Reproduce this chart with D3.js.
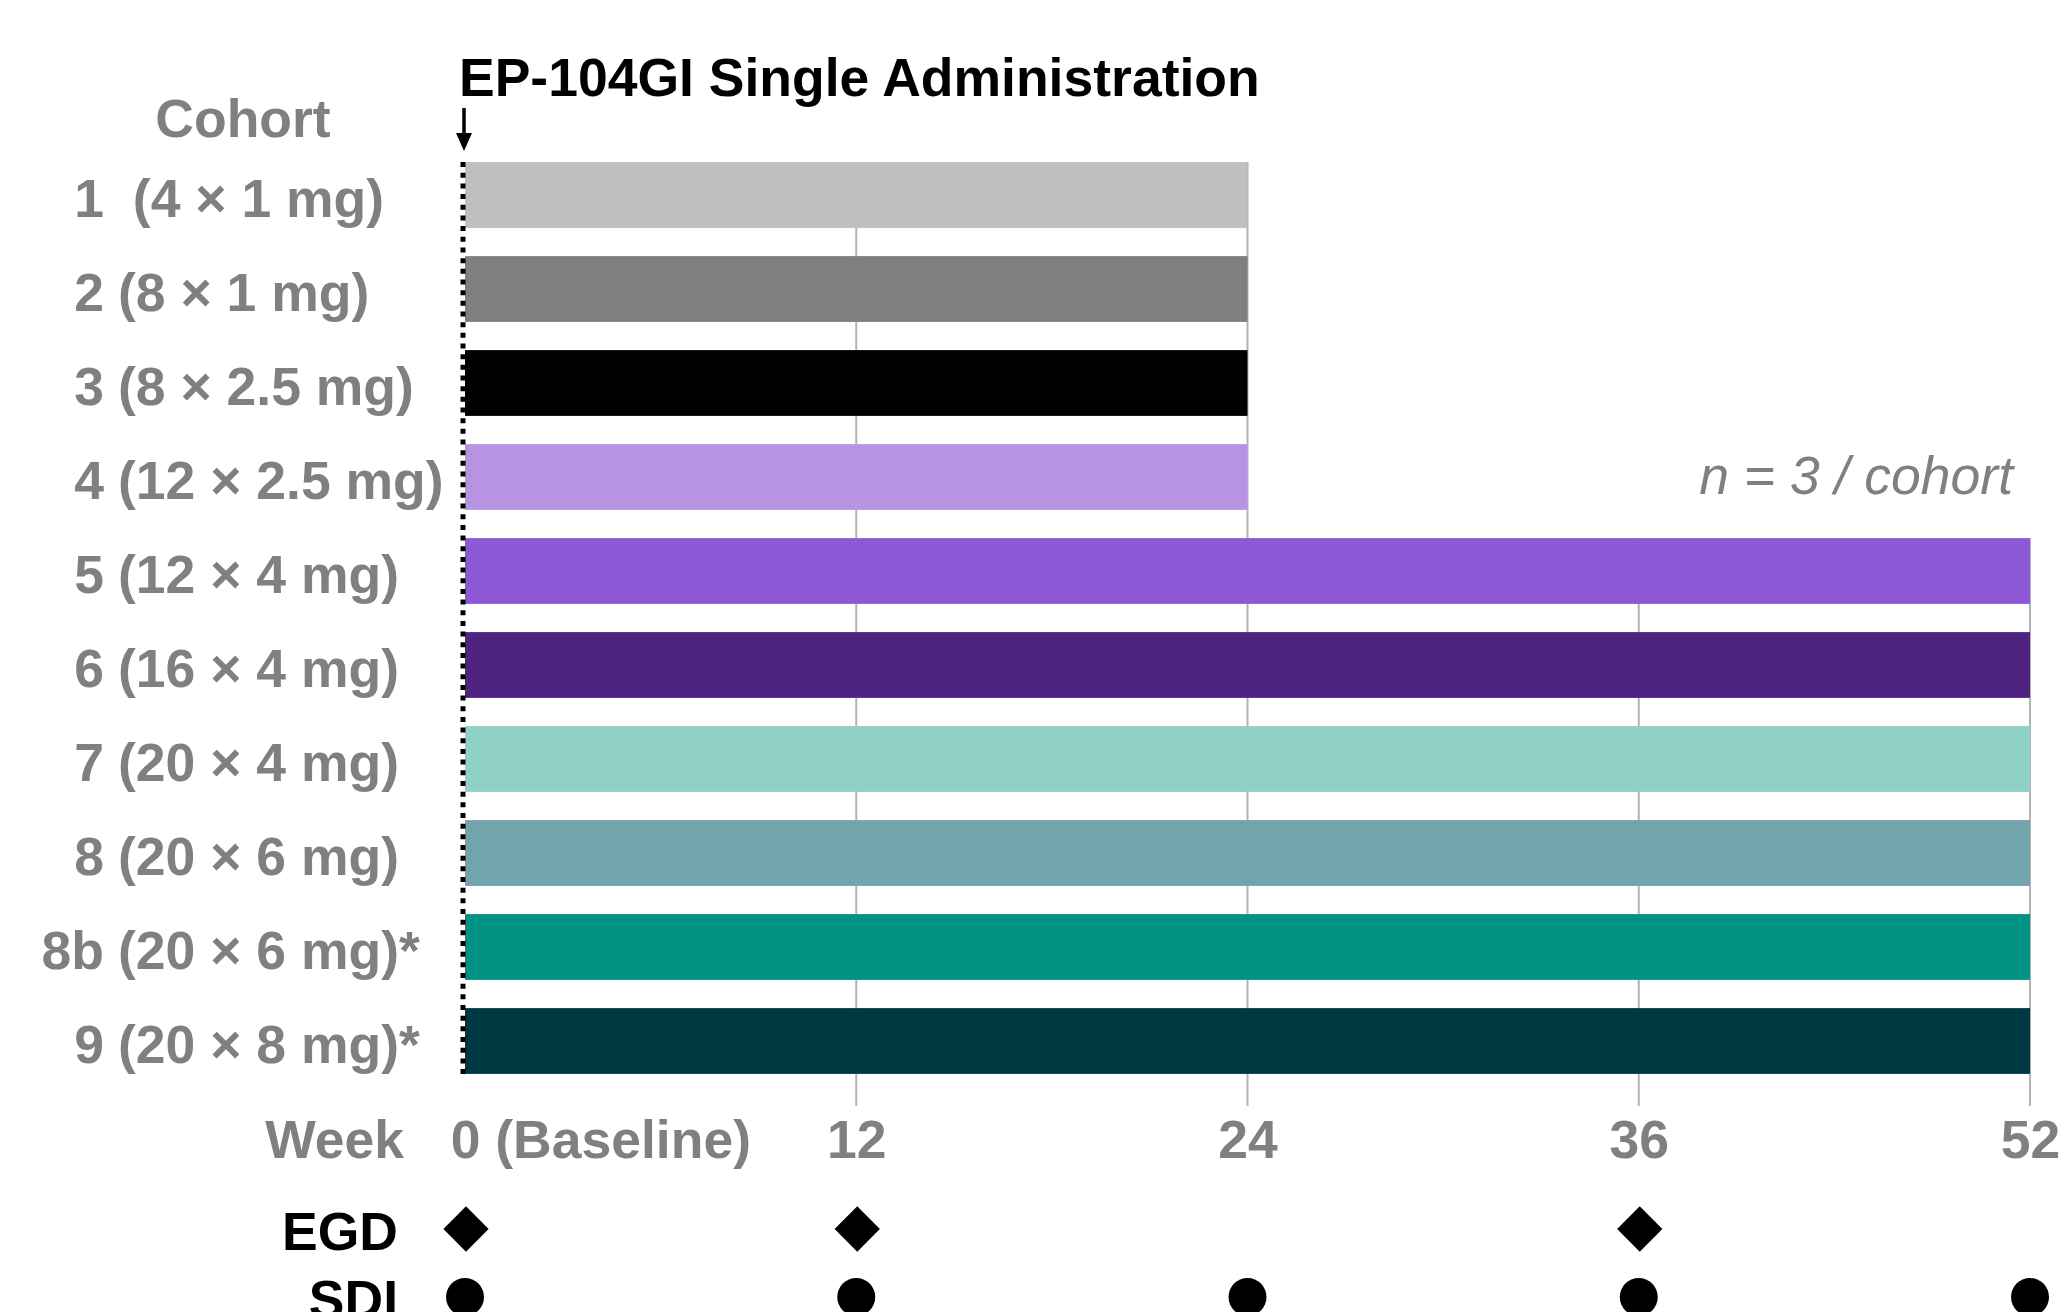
<!DOCTYPE html>
<html>
<head>
<meta charset="utf-8">
<script src="https://cdn.jsdelivr.net/npm/d3@7"></script>
<style>
  html, body { margin: 0; padding: 0; background: #ffffff; }
  svg { display: block; }
  text { font-family: "Liberation Sans", Arial, Helvetica, sans-serif; white-space: pre; }
</style>
</head>
<body>
<svg id="chart" width="2063" height="1312"></svg>
<script>
// ---- data ----
const cohortIds = ["1", "2", "3", "4", "5", "6", "7", "8", "8b", "9"];
const doseLabels = [" (4 × 1 mg)", "(8 × 1 mg)", "(8 × 2.5 mg)", "(12 × 2.5 mg)", "(12 × 4 mg)",
                    "(16 × 4 mg)", "(20 × 4 mg)", "(20 × 6 mg)", "(20 × 6 mg)*", "(20 × 8 mg)*"];
const endWeeks = [24, 24, 24, 24, 52, 52, 52, 52, 52, 52];
const barColors = ["#bfbfbf", "#7f7f7f", "#000000", "#b794e2", "#8e59d6",
                   "#4f2382", "#8fd1c6", "#72a4ab", "#009383", "#003842"];
const tickWeeks = [0, 12, 24, 36, 52];
const tickLabels = ["0 (Baseline)", "12", "24", "36", "52"];
const egdWeeks = [0, 12, 36];
const sdiWeeks = [0, 12, 24, 36, 52];
const titleText = "EP-104GI Single Administration";
const noteText = "n = 3 / cohort";

// ---- setup ----
const W = 2063, H = 1312;
const FS = 53.5;
const GRAY = "#808080";
const svg = d3.select("#chart").attr("xml:space", "preserve");
svg.append("rect").attr("width", W).attr("height", H).attr("fill", "#fff");

const x = d3.scalePoint().domain(tickWeeks).range([465, 2030]);
const y = d3.scaleBand().domain(cohortIds).range([148, 1088]).paddingInner(0.3).paddingOuter(0.15);

const rows = cohortIds.map((id, i) => ({ id, dose: doseLabels[i], end: endWeeks[i], color: barColors[i] }));

// ---- gridlines (start at the first bar that reaches the week) ----
const gridBottom = 1106;
svg.append("g").selectAll("line")
  .data(tickWeeks.filter(t => t > 0))
  .join("line")
  .attr("x1", d => x(d)).attr("x2", d => x(d))
  .attr("y1", d => y(rows.find(r => r.end >= d).id))
  .attr("y2", gridBottom)
  .attr("stroke", "#b3b3b3").attr("stroke-width", 2);

// ---- bars ----
svg.append("g").selectAll("rect")
  .data(rows)
  .join("rect")
  .attr("x", x(0))
  .attr("y", d => y(d.id))
  .attr("width", d => x(d.end) - x(0))
  .attr("height", y.bandwidth())
  .attr("fill", d => d.color);

// ---- dotted baseline ----
svg.append("line")
  .attr("x1", x(0) - 2).attr("x2", x(0) - 2)
  .attr("y1", y(cohortIds[0])).attr("y2", y(cohortIds[cohortIds.length - 1]) + y.bandwidth())
  .attr("stroke", "#000").attr("stroke-width", 5)
  .attr("stroke-dasharray", "5 5.67");

// ---- arrow ----
const ax = x(0) - 1;
svg.append("line").attr("x1", ax).attr("x2", ax).attr("y1", 108).attr("y2", 136)
  .attr("stroke", "#000").attr("stroke-width", 3.5);
svg.append("path").attr("d", `M${ax - 8},133 L${ax + 8},133 L${ax},151 Z`).attr("fill", "#000");

// ---- title ----
svg.append("text").attr("x", 459).attr("y", 96)
  .attr("font-size", FS).attr("font-weight", "bold").attr("fill", "#000")
  .text(titleText);

// ---- cohort header ----
svg.append("text").attr("x", 243).attr("y", 137).attr("text-anchor", "middle")
  .attr("font-size", FS).attr("font-weight", "bold").attr("fill", GRAY)
  .text("Cohort");

// ---- cohort labels ----
const labG = svg.append("g").attr("font-size", FS).attr("font-weight", "bold").attr("fill", GRAY);
labG.selectAll("text.id").data(rows).join("text").attr("class", "id")
  .attr("x", 104).attr("y", d => y(d.id) + y.bandwidth() / 2 + 22)
  .attr("text-anchor", "end").text(d => d.id);
labG.selectAll("text.dose").data(rows).join("text").attr("class", "dose")
  .attr("x", 118).attr("y", d => y(d.id) + y.bandwidth() / 2 + 22)
  .attr("text-anchor", "start").text(d => d.dose);

// ---- n = 3 / cohort ----
svg.append("text").attr("x", 2013).attr("y", 494).attr("text-anchor", "end")
  .attr("font-size", FS).attr("font-style", "italic").attr("fill", GRAY)
  .text(noteText);

// ---- x axis (week) ----
const axisY = 1158;
const axG = svg.append("g").attr("transform", `translate(0,${axisY})`)
  .call(d3.axisBottom(x).tickSize(0).tickPadding(0).tickFormat((d, i) => tickLabels[i]));
axG.select(".domain").remove();
axG.selectAll("text")
  .attr("y", 0).attr("dy", 0)
  .attr("font-size", FS).attr("font-weight", "bold").attr("fill", GRAY)
  .attr("font-family", "\"Liberation Sans\", Arial, sans-serif")
  .filter(d => d === 0)
  .attr("text-anchor", "start").attr("dx", "-0.278em");
svg.append("text").attr("x", 404).attr("y", axisY).attr("text-anchor", "end")
  .attr("font-size", FS).attr("font-weight", "bold").attr("fill", GRAY)
  .text("Week");

// ---- EGD diamonds ----
const egdY = 1229;
svg.append("text").attr("x", 398).attr("y", 1250).attr("text-anchor", "end")
  .attr("font-size", FS).attr("font-weight", "bold").attr("fill", "#000").text("EGD");
svg.append("g").selectAll("path").data(egdWeeks).join("path")
  .attr("d", d3.symbol(d3.symbolSquare, 32 * 32))
  .attr("transform", d => `translate(${x(d) + 1},${egdY}) rotate(45)`)
  .attr("fill", "#000");

// ---- SDI circles ----
const sdiY = 1297;
svg.append("text").attr("x", 398).attr("y", 1318).attr("text-anchor", "end")
  .attr("font-size", FS).attr("font-weight", "bold").attr("fill", "#000").text("SDI");
svg.append("g").selectAll("circle").data(sdiWeeks).join("circle")
  .attr("cx", d => x(d)).attr("cy", sdiY).attr("r", 19)
  .attr("fill", "#000");
</script>
</body>
</html>
